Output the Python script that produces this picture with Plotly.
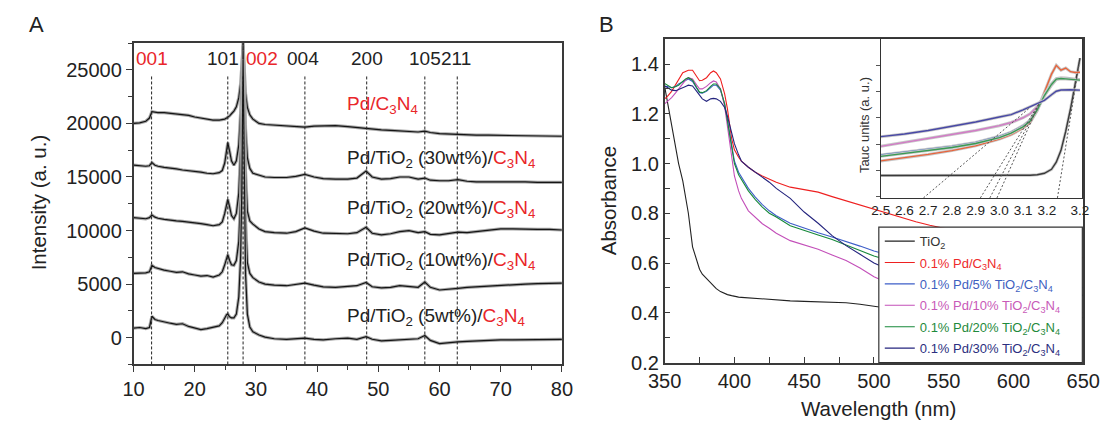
import plotly.graph_objects as go

W, H = 1118, 438          # size of the page that is photographed
OX, OY = 8, 8             # browser default body margin around the figure
FW, FH = W - 2 * OX, H - 2 * OY
FONT = "Liberation Sans, Arial, sans-serif"
RED = "#e9262a"
AX = "#3a3a3a"

# ---------------- panel A : XRD patterns ----------------
two_theta = [10, 11, 12, 12.6, 13.0, 13.5, 14, 15, 16, 17, 18, 19, 20, 21, 22, 23, 24,
             24.5, 24.9, 25.2, 25.4, 25.7, 26.0, 26.4, 26.8, 27.2, 27.5, 27.7, 27.9, 28.1,
             28.3, 28.6, 29.0, 29.5, 30.5, 31.5, 33, 35, 36.5, 38, 39.5, 41, 43, 45, 46.5,
             48, 49, 50.5, 52, 53.5, 55, 56.5, 57.6, 58.5, 60, 61.5, 63, 64.5, 66, 68, 70,
             72, 74, 76, 78, 80]

int_pd_c3n4 = [20000, 20050, 20200, 20500, 21100, 21050, 21000, 21000, 20950, 20900, 20850,
               20750, 20600, 20500, 20400, 20300, 20300, 20350, 20400, 20500, 20550, 20700,
               20900, 21150, 21550, 22400, 23700, 25300, 27200, 25000, 22800, 21500, 20800,
               20400, 20000, 19900, 19850, 19750, 19700, 19650, 19750, 19800, 19800, 19700,
               19600, 19550, 19450, 19400, 19350, 19300, 19250, 19200, 19280, 19150, 19050,
               19000, 18950, 18950, 18900, 18900, 18880, 18850, 18850, 18850, 18850, 18800]

int_30wt = [16100, 16050, 16000, 16050, 16350, 16100, 16000, 15900, 15850, 15750, 15650,
            15600, 15500, 15450, 15350, 15300, 15400, 15600, 16300, 17600, 18200, 17400,
            16500, 16100, 16500, 18000, 21000, 24500, 27700, 24000, 19500, 16800, 15800,
            15350, 15150, 15000, 14950, 14950, 15050, 15250, 15000, 14850, 14800, 14800,
            14900, 15550, 15000, 14800, 14850, 15000, 15000, 14800, 14900, 14700, 14650,
            14650, 14750, 14600, 14550, 14550, 14600, 14600, 14550, 14500, 14500, 14500]

int_20wt = [11200, 11150, 11100, 11200, 11450, 11250, 11150, 11050, 10950, 10900, 10850,
            10800, 10700, 10650, 10550, 10450, 10550, 10800, 11600, 12500, 12900, 12200,
            11400, 11100, 11600, 13500, 17500, 22500, 27300, 22000, 15500, 11800, 10900,
            10600, 10150, 9900, 9800, 9750, 9900, 10250, 9950, 9750, 9700, 9700,
            9800, 10300, 9750, 9600, 9700, 9900, 10000, 9800, 9900, 9650, 9600,
            9700, 9850, 9800, 9900, 10000, 10150, 10150, 10100, 10100, 10100, 10050]

int_10wt = [6000, 6000, 6050, 6150, 6750, 6550, 6450, 6300, 6200, 6100, 6150,
            5950, 5850, 5750, 5800, 5650, 5850, 6150, 6800, 7550, 7750, 7200,
            6800, 6750, 7200, 9000, 13000, 19000, 26800, 19000, 11000, 7000, 6000,
            5600, 5200, 5000, 4900, 4850, 4950, 5100, 4900, 4750, 4700, 4750,
            4850, 5150, 4750, 4650, 4700, 4850, 4750, 4700, 5200, 4700, 4450,
            4500, 4600, 4700, 4750, 4850, 4900, 5000, 5000, 5050, 5100, 5100]

int_5wt = [900, 950, 850, 950, 2000, 1700, 1600, 1450, 1350, 1250, 1300,
           1050, 900, 750, 850, 950, 1100, 1400, 1900, 2150, 2200, 1950,
           1850, 1850, 2200, 3800, 7500, 14000, 26000, 15000, 6000, 2200, 1000,
           550, 250, 50, -100, -150, -100, -50, -150, -200, -100, -50,
           -150, 100, -150, -300, -250, -200, -150, -100, 200, -250, -550,
           -450, -400, -350, -300, -250, -200, -200, -200, -150, -150, -150]

xrd_series = [int_pd_c3n4, int_30wt, int_20wt, int_10wt, int_5wt]

hkl_text = ["001", "101", "002", "004", "200", "105", "211"]
hkl_text_pos = [13.0, 24.6, 31.0, 37.7, 48.1, 57.6, 62.7]
hkl_color = [RED, "#222", RED, "#222", "#222", "#222", "#222"]
hkl_lines = [12.95, 25.4, 27.9, 38.0, 48.1, 57.6, 62.9]

sample_text = [
    "Pd/C<sub>3</sub>N<sub>4</sub>",
    "Pd/TiO<sub>2</sub> (30wt%)/",
    "Pd/TiO<sub>2</sub> (20wt%)/",
    "Pd/TiO<sub>2</sub> (10wt%)/",
    "Pd/TiO<sub>2</sub> (5wt%)/",
]
sample_y = [21700, 16700, 12000, 7150, 1900]

# ---------------- panel B : UV-vis ----------------
wavelength = [350, 352, 355, 358, 360, 363, 365, 367, 370, 373, 375, 377, 380, 383, 385,
              387, 390, 393, 395, 398, 400, 403, 405, 410, 415, 420, 425, 430, 440, 450,
              460, 470, 480, 490, 500, 510, 520, 530, 540, 550, 560, 580, 600, 620, 650]

abs_tio2 = [1.31, 1.25, 1.165, 1.06, 1.0, 0.93, 0.86, 0.80, 0.665, 0.605, 0.575, 0.555, 0.537,
            0.52, 0.507, 0.497, 0.485, 0.477, 0.473, 0.469, 0.466, 0.463, 0.462, 0.46, 0.457,
            0.455, 0.453, 0.451, 0.448, 0.446, 0.445, 0.443, 0.44, 0.434, 0.425, 0.418, 0.414,
            0.41, 0.407, 0.404, 0.40, 0.395, 0.39, 0.386, 0.38]
abs_pd = [1.26, 1.27, 1.29, 1.32, 1.34, 1.365, 1.37, 1.375, 1.375, 1.35, 1.333, 1.335, 1.345,
          1.365, 1.372, 1.365, 1.34, 1.28, 1.22, 1.10, 1.055, 1.025, 1.01, 0.985, 0.965, 0.95,
          0.938, 0.925, 0.905, 0.895, 0.885, 0.867, 0.85, 0.832, 0.815, 0.797, 0.781, 0.766,
          0.752, 0.74, 0.728, 0.705, 0.68, 0.655, 0.62]
abs_5 = [1.31, 1.31, 1.305, 1.31, 1.32, 1.33, 1.335, 1.34, 1.33, 1.30, 1.285, 1.283, 1.29,
         1.305, 1.315, 1.315, 1.295, 1.24, 1.17, 1.07, 1.01, 0.965, 0.945, 0.90, 0.865, 0.835,
         0.81, 0.79, 0.76, 0.74, 0.722, 0.705, 0.688, 0.668, 0.648, 0.632, 0.618, 0.605,
         0.593, 0.582, 0.572, 0.555, 0.54, 0.525, 0.50]
abs_10 = [1.24, 1.25, 1.265, 1.285, 1.30, 1.32, 1.335, 1.345, 1.34, 1.315, 1.30, 1.30, 1.31,
          1.325, 1.332, 1.328, 1.30, 1.23, 1.15, 1.01, 0.95, 0.89, 0.86, 0.81, 0.785, 0.758,
          0.74, 0.72, 0.69, 0.672, 0.655, 0.632, 0.61, 0.58, 0.545, 0.52, 0.50, 0.485, 0.472,
          0.46, 0.45, 0.435, 0.42, 0.41, 0.40]
abs_20 = [1.322, 1.315, 1.305, 1.31, 1.315, 1.33, 1.34, 1.345, 1.335, 1.305, 1.287, 1.285,
          1.293, 1.31, 1.32, 1.32, 1.30, 1.24, 1.17, 1.06, 1.0, 0.955, 0.935, 0.89, 0.855,
          0.825, 0.80, 0.785, 0.75, 0.73, 0.713, 0.695, 0.674, 0.65, 0.628, 0.61, 0.595, 0.58,
          0.567, 0.555, 0.545, 0.525, 0.505, 0.49, 0.47]
abs_30 = [1.313, 1.305, 1.295, 1.293, 1.297, 1.305, 1.31, 1.315, 1.312, 1.29, 1.275, 1.26,
          1.25, 1.26, 1.262, 1.26, 1.25, 1.225, 1.19, 1.125, 1.08, 1.035, 1.01, 0.985, 0.965,
          0.945, 0.925, 0.90, 0.86, 0.805, 0.76, 0.71, 0.67, 0.635, 0.60, 0.575, 0.555, 0.54,
          0.53, 0.52, 0.51, 0.495, 0.485, 0.478, 0.47]

uv_names = [
    "TiO<sub>2</sub>",
    "0.1% Pd/C<sub>3</sub>N<sub>4</sub>",
    "0.1% Pd/5% TiO<sub>2</sub>/C<sub>3</sub>N<sub>4</sub>",
    "0.1% Pd/10% TiO<sub>2</sub>/C<sub>3</sub>N<sub>4</sub>",
    "0.1% Pd/20% TiO<sub>2</sub>/C<sub>3</sub>N<sub>4</sub>",
    "0.1% Pd/30% TiO<sub>2</sub>/C<sub>3</sub>N<sub>4</sub>",
]
uv_series = [abs_tio2, abs_pd, abs_5, abs_10, abs_20, abs_30]
uv_colors = ["#222222", "#ee2020", "#3d5ec8", "#c34fb9", "#17893a", "#24247e"]
uv_text_colors = ["#333333", "#ee2a2a", "#3f5fbf", "#c85ab8", "#1f8a3c", "#2c2f80"]

# ---------------- inset : Tauc plot ----------------
photon_ev = [2.5, 2.6, 2.7, 2.8, 2.9, 3.0, 3.05, 3.1, 3.13, 3.16, 3.19, 3.22, 3.24, 3.26,
             3.28, 3.3, 3.32, 3.34]
tauc_tio2 = [0.141, 0.141, 0.141, 0.141, 0.141, 0.141, 0.141, 0.142, 0.143, 0.146, 0.155,
             0.18, 0.225, 0.30, 0.42, 0.56, 0.72, 0.88]
tauc_pd = [0.233, 0.253, 0.274, 0.298, 0.328, 0.37, 0.398, 0.44, 0.475, 0.55, 0.66, 0.78,
           0.835, 0.805, 0.818, 0.795, 0.79, 0.792]
tauc_5 = [0.27, 0.288, 0.306, 0.325, 0.35, 0.388, 0.415, 0.455, 0.49, 0.56, 0.65, 0.72,
          0.752, 0.757, 0.755, 0.75, 0.748, 0.746]
tauc_10 = [0.325, 0.35, 0.372, 0.40, 0.425, 0.455, 0.475, 0.505, 0.53, 0.575, 0.64, 0.71,
           0.745, 0.752, 0.75, 0.748, 0.746, 0.745]
tauc_20 = [0.262, 0.28, 0.298, 0.318, 0.343, 0.38, 0.408, 0.448, 0.485, 0.555, 0.645, 0.715,
           0.748, 0.752, 0.75, 0.746, 0.744, 0.742]
tauc_30 = [0.386, 0.403, 0.425, 0.452, 0.478, 0.51, 0.525, 0.555, 0.575, 0.59, 0.615, 0.65,
           0.672, 0.68, 0.682, 0.681, 0.68, 0.679]
tauc_series = [tauc_tio2, tauc_pd, tauc_5, tauc_10, tauc_20, tauc_30]
tauc_colors = ["#3a3a3a", "#e8643c", "#4a78c0", "#d27ac6", "#3a9a55", "#4848a6"]

tangent_x = [[2.68, 3.13], [2.92, 3.17], [2.96, 3.17], [2.99, 3.17], [3.245, 3.34]]
tangent_y = [[0.0, 0.57], [0.0, 0.60], [0.0, 0.60], [0.0, 0.60], [0.0, 0.88]]


# page pixel -> figure paper fraction (the figure sits inside the 8px body margin)
def fx(px):
    return (px - OX) / FW


def fy(py):
    return 1 - (py - OY) / FH


fig = go.Figure()

for s in xrd_series:
    fig.add_trace(go.Scatter(x=two_theta, y=s, mode="lines", xaxis="x", yaxis="y",
                             line=dict(color="#a8a8a8", width=3.2), showlegend=False,
                             hoverinfo="skip"))
    fig.add_trace(go.Scatter(x=two_theta, y=s, mode="lines", xaxis="x", yaxis="y",
                             line=dict(color="#151515", width=1.2), showlegend=False))

for i, (name, s, c, tc) in enumerate(zip(uv_names, uv_series, uv_colors, uv_text_colors)):
    fig.add_trace(go.Scatter(x=wavelength, y=s, mode="lines", xaxis="x2", yaxis="y2",
                             name='<span style="color:%s">%s</span>' % (tc, name),
                             legendgroup="g%d" % i,
                             line=dict(color=c, width=1.1)))

for s, c in zip(tauc_series, tauc_colors):
    fig.add_trace(go.Scatter(x=photon_ev, y=s, mode="lines", xaxis="x3", yaxis="y3",
                             line=dict(color="#c8c8c8", width=3), showlegend=False,
                             hoverinfo="skip"))
    fig.add_trace(go.Scatter(x=photon_ev, y=s, mode="lines", xaxis="x3", yaxis="y3",
                             line=dict(color=c, width=1.4), showlegend=False))

for tx, ty in zip(tangent_x, tangent_y):
    fig.add_trace(go.Scatter(x=tx, y=ty, mode="lines", xaxis="x3", yaxis="y3",
                             line=dict(color="#555", width=1, dash="2px,2px"),
                             showlegend=False))

shapes = []
for xl in hkl_lines:
    shapes.append(dict(type="line", xref="x", yref="y", x0=xl, x1=xl, y0=-2500, y1=24500,
                       line=dict(color="#222", width=1, dash="3px,2px"), layer="above"))
# white legend box of panel B (covers the curve ends like the original)
shapes.append(dict(type="rect", xref="paper", yref="paper", x0=fx(889), x1=fx(1099),
                   y0=fy(372), y1=fy(233), fillcolor="white",
                   line=dict(color="#333", width=1.2), layer="above"))

annotations = []
for t, xp, c in zip(hkl_text, hkl_text_pos, hkl_color):
    annotations.append(dict(x=xp, y=26100, xref="x", yref="y", text=t, showarrow=False,
                            font=dict(size=19, color=c), xanchor="center", yanchor="middle"))
for i, (t, yv) in enumerate(zip(sample_text, sample_y)):
    if i == 0:
        txt = '<span style="color:%s">%s</span>' % (RED, t)
    else:
        txt = t + '<span style="color:%s">C<sub>3</sub>N<sub>4</sub></span>' % RED
    annotations.append(dict(x=44.5, y=yv, xref="x", yref="y", text=txt, showarrow=False,
                            font=dict(size=19, color="#222"), xanchor="left",
                            yanchor="middle"))


def label(px, py, text, size, angle=0, color="#222"):
    return dict(x=fx(px), y=fy(py), xref="paper", yref="paper", text=text,
                textangle=angle, showarrow=False, xanchor="center", yanchor="middle",
                font=dict(size=size, color=color))


annotations += [
    label(20, 25, "A", 22),
    label(608, 25, "B", 22),
    label(22, 208, "Intensity (a. u.)", 20.5, -90),
    label(610, 206, "Absorbance", 20.5, -90),
    label(889, 419, "Wavelength (nm)", 20.5),
    label(875, 128, "Tauc units (a. u.)", 13, -90, "#333"),
]

axis_common = dict(showgrid=False, zeroline=False, showline=True, linecolor=AX,
                   linewidth=1.5, mirror=True, tickcolor=AX,
                   tickfont=dict(size=20, color="#222"))

fig.update_layout(
    width=FW, height=FH,
    margin=dict(l=0, r=0, t=0, b=0),
    paper_bgcolor="white", plot_bgcolor="white",
    font=dict(family=FONT, color="#222"),
    xaxis=dict(domain=[fx(120), fx(562)], range=[10, 80], dtick=10, tick0=10,
               ticks="outside", ticklen=6, tickwidth=1.3,
               minor=dict(dtick=5, ticks="outside", ticklen=4, tickcolor=AX),
               anchor="y", **axis_common),
    yaxis=dict(domain=[fy(374), fy(44)], range=[-2500, 27500], dtick=5000, tick0=0,
               tickformat="d", ticks="outside", ticklen=6, tickwidth=1.3,
               minor=dict(dtick=2500, ticks="outside", ticklen=4, tickcolor=AX),
               anchor="x", **axis_common),
    xaxis2=dict(domain=[fx(668), fx(1100)], range=[350, 650], dtick=50, tick0=350,
                ticks="inside", ticklen=6, tickwidth=1.3,
                minor=dict(dtick=25, ticks="inside", ticklen=6, tickcolor=AX),
                anchor="y2", **axis_common),
    yaxis2=dict(domain=[fy(372), fy(40)], range=[0.2, 1.5], dtick=0.2, tick0=0.2,
                tickformat=".1f", ticks="inside", ticklen=6, tickwidth=1.3,
                minor=dict(dtick=0.1, ticks="inside", ticklen=6, tickcolor=AX),
                anchor="x2", **axis_common),
    xaxis3=dict(domain=[fx(891), fx(1099)], range=[2.5, 3.35],
                tickvals=[2.5, 2.6, 2.7, 2.8, 2.9, 3.0, 3.1, 3.2, 3.34],
                ticktext=["2.5", "2.6", "2.7", "2.8", "2.9", "3.0", "3.1", "3.2", "3.2"],
                ticks="", showgrid=False, zeroline=False, showline=True, linecolor="#333",
                linewidth=1.3, mirror=True, tickfont=dict(size=13.5, color="#222"),
                anchor="y3"),
    yaxis3=dict(domain=[fy(203), fy(40)], range=[0, 1], tick0=0.172, dtick=0.166,
                ticks="outside", ticklen=4, tickcolor="#555", showticklabels=False,
                showgrid=False, zeroline=False, showline=True, linecolor="#333",
                linewidth=1.3, mirror=True, anchor="x3"),
    legend=dict(x=fx(890), y=fy(232), xanchor="left", yanchor="top",
                bgcolor="rgba(0,0,0,0)", borderwidth=0,
                font=dict(size=13, family=FONT, color="#333"), itemwidth=30,
                traceorder="grouped", tracegroupgap=1.5),
    shapes=shapes,
    annotations=annotations,
)

fig.write_html("out.html", config={"displayModeBar": False})
